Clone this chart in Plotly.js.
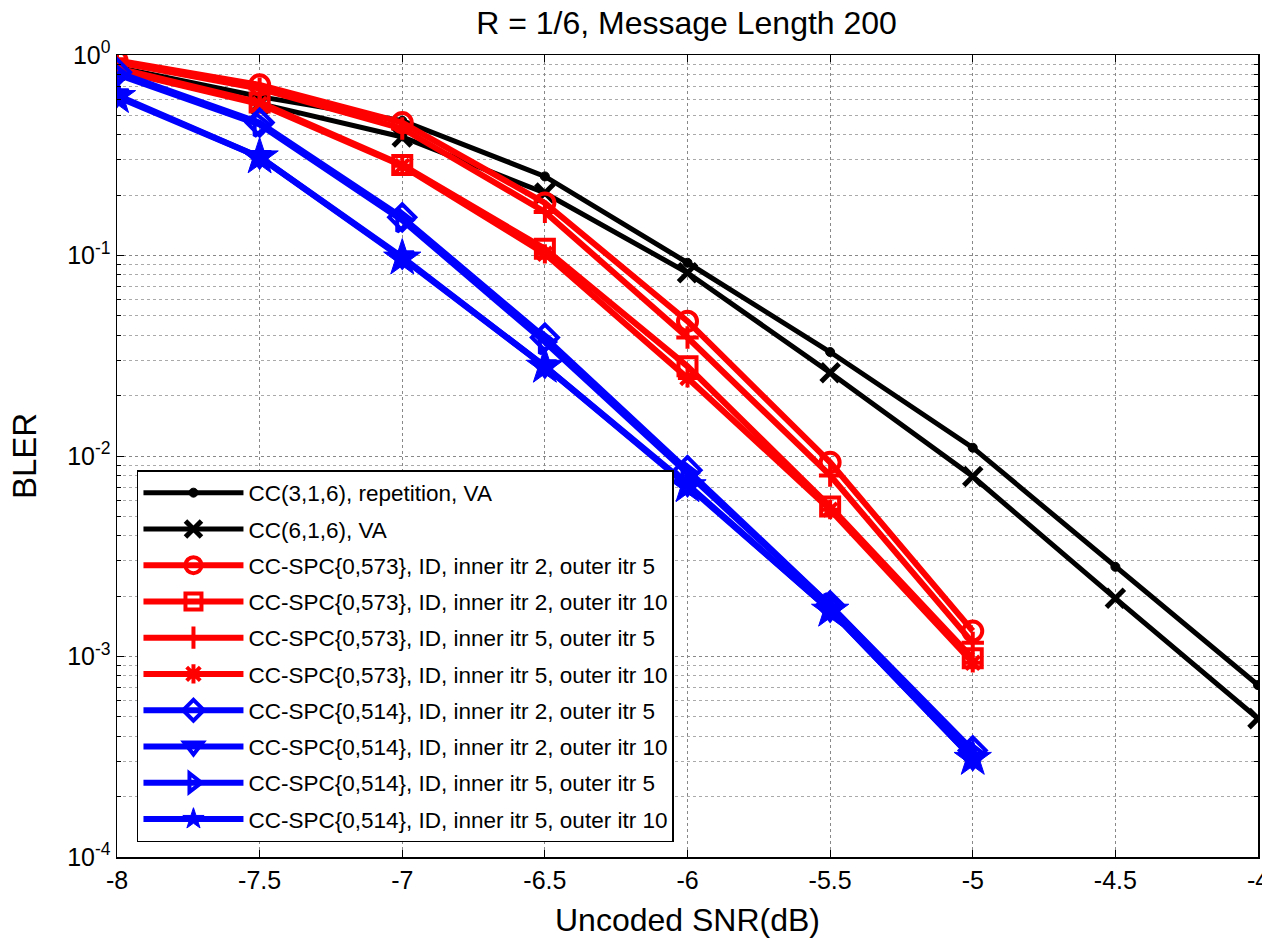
<!DOCTYPE html>
<html>
<head>
<meta charset="utf-8">
<script src="https://cdn.plot.ly/plotly-3.0.1.min.js"></script>
<style>html,body{margin:0;padding:0;background:#fff;}#chart{width:1262px;height:941px;}</style>
</head>
<body>
<div id="chart"></div>
<script>
// ---- data ----
var snrCC = [-8, -7.5, -7, -6.5, -6, -5.5, -5, -4.5, -4];
var snrSPC = [-8, -7.5, -7, -6.5, -6, -5.5, -5];

var ccRep = [0.87, 0.62, 0.47, 0.248, 0.092, 0.033, 0.011, 0.0028, 0.00072];
var cc616 = [0.84, 0.57, 0.39, 0.205, 0.082, 0.026, 0.0079, 0.00195, 0.00049];

var r573_i2o5  = [0.94, 0.71, 0.46, 0.183, 0.047, 0.0093, 0.00134];
var r573_i2o10 = [0.86, 0.58, 0.283, 0.108, 0.028, 0.0056, 0.00098];
var r573_i5o5  = [0.92, 0.68, 0.43, 0.165, 0.039, 0.0080, 0.00117];
var r573_i5o10 = [0.84, 0.57, 0.28, 0.102, 0.0245, 0.0054, 0.00093];

var b514_i2o5  = [0.82, 0.46, 0.155, 0.039, 0.0085, 0.0018, 0.00034];
var b514_i2o10 = [0.63, 0.31, 0.098, 0.028, 0.0072, 0.0017, 0.00031];
var b514_i5o5  = [0.80, 0.45, 0.150, 0.037, 0.0082, 0.0018, 0.00033];
var b514_i5o10 = [0.62, 0.31, 0.097, 0.028, 0.0071, 0.0017, 0.00031];

var legendNames = [
  'CC(3,1,6), repetition, VA',
  'CC(6,1,6), VA',
  'CC-SPC{0,573}, ID, inner itr 2, outer itr 5',
  'CC-SPC{0,573}, ID, inner itr 2, outer itr 10',
  'CC-SPC{0,573}, ID, inner itr 5, outer itr 5',
  'CC-SPC{0,573}, ID, inner itr 5, outer itr 10',
  'CC-SPC{0,514}, ID, inner itr 2, outer itr 5',
  'CC-SPC{0,514}, ID, inner itr 2, outer itr 10',
  'CC-SPC{0,514}, ID, inner itr 5, outer itr 5',
  'CC-SPC{0,514}, ID, inner itr 5, outer itr 10'
];

var yTickVals = [1e-4, 1e-3, 1e-2, 1e-1, 1];
var yTickText = ['10<sup>-4</sup>', '10<sup>-3</sup>', '10<sup>-2</sup>', '10<sup>-1</sup>', '10<sup>0</sup>'];
var xTickVals = [-8, -7.5, -7, -6.5, -6, -5.5, -5, -4.5, -4];

// ---- build ----
var yMinor = [];
[1e-4, 1e-3, 1e-2, 1e-1].forEach(function (d) {
  for (var k = 2; k <= 9; k++) yMinor.push(k * d);
});

var idx = 0;
function tr(x, y, name, color, symbol, msize, lw, mlw) {
  idx++;
  return {
    x: x, y: y, name: name, type: 'scatter', mode: 'lines+markers',
    legendgroup: 'g' + idx,
    line: {color: color, width: lw},
    marker: {symbol: symbol, size: msize, color: color, line: {color: color, width: mlw}}
  };
}
var RED = '#ff0000', BLUE = '#0000ff', BLACK = '#000000';
var data = [
  tr(snrCC, ccRep, legendNames[0], BLACK, 'circle', 9, 5, 1),
  tr(snrCC, cc616, legendNames[1], BLACK, 'x-thin-open', 18, 5, 5),
  tr(snrSPC, r573_i2o5, legendNames[2], RED, 'circle-open', 19, 6, 4),
  tr(snrSPC, r573_i2o10, legendNames[3], RED, 'square-open', 18, 6, 4),
  tr(snrSPC, r573_i5o5, legendNames[4], RED, 'cross-thin-open', 16, 6, 4),
  tr(snrSPC, r573_i5o10, legendNames[5], RED, 'asterisk-open', 16, 6, 4),
  tr(snrSPC, b514_i2o5, legendNames[6], BLUE, 'diamond-open', 20, 6, 4),
  tr(snrSPC, b514_i2o10, legendNames[7], BLUE, 'triangle-down-open', 20, 6, 4),
  tr(snrSPC, b514_i5o5, legendNames[8], BLUE, 'triangle-right-open', 20, 6, 4),
  tr(snrSPC, b514_i5o10, legendNames[9], BLUE, 'star', 28, 6, 1)
];

var fontFam = 'Liberation Sans, Arial, sans-serif';
var layout = {
  width: 1262, height: 941,
  margin: {l: 117, r: 4, t: 55, b: 84},
  paper_bgcolor: '#fff', plot_bgcolor: '#fff',
  font: {family: fontFam, color: '#000'},
  title: {text: 'R = 1/6, Message Length 200', font: {size: 32, family: fontFam}, x: 0.544, xanchor: 'center', y: 0.988, yanchor: 'top'},
  showlegend: true,
  legend: {
    x: 0.0175, y: 0.4825, xanchor: 'left', yanchor: 'top',
    bgcolor: '#fff', bordercolor: '#000', borderwidth: 1.5,
    font: {size: 22.5, family: fontFam, color: '#000'},
    itemwidth: 100, tracegroupgap: 4
  },
  xaxis: {
    range: [-8, -4], tickvals: xTickVals, ticktext: xTickVals.map(String),
    ticklabeloverflow: 'allow',
    title: {text: 'Uncoded SNR(dB)', font: {size: 32, family: fontFam}, standoff: 16},
    tickfont: {size: 25, family: fontFam},
    showgrid: true, gridcolor: '#888', griddash: 'dot', gridwidth: 1,
    showline: true, linecolor: '#000', linewidth: 1.5, mirror: 'ticks',
    ticks: 'inside', ticklen: 7, tickcolor: '#000', zeroline: false
  },
  yaxis: {
    type: 'log', range: [-4, 0], tickvals: yTickVals, ticktext: yTickText,
    ticklabeloverflow: 'allow',
    title: {text: 'BLER', font: {size: 33, family: fontFam}, standoff: 20},
    tickfont: {size: 25, family: fontFam},
    showgrid: true, gridcolor: '#888', griddash: 'dot', gridwidth: 1,
    showline: true, linecolor: '#000', linewidth: 1.5, mirror: 'ticks',
    ticks: 'inside', ticklen: 7, tickcolor: '#000', zeroline: false,
    minor: {tickmode: 'array', tickvals: yMinor, showgrid: true, gridcolor: '#aaa', griddash: 'dot', gridwidth: 1, ticks: 'inside', ticklen: 4, tickcolor: '#000'}
  }
};

Plotly.newPlot('chart', data, layout, {displayModeBar: false, staticPlot: true});
</script>
</body>
</html>
